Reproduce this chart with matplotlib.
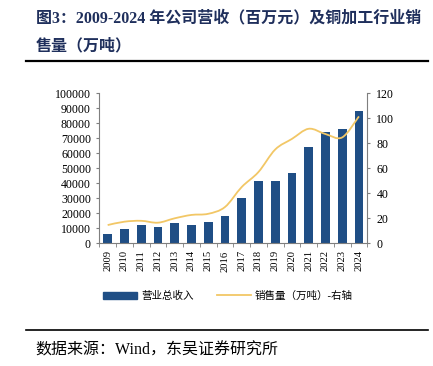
import matplotlib

matplotlib.use("Agg")

import matplotlib.pyplot as plt
from matplotlib.lines import Line2D
from matplotlib.patches import PathPatch
from matplotlib.path import Path

plt.rcParams["font.family"] = ["Liberation Serif", "Noto Sans CJK SC"]

years = [str(y) for y in range(2009, 2025)]
revenue = [6400, 9300, 12200, 10700, 13300, 12400, 14000, 18200,
           30400, 41300, 41700, 46900, 64000, 74400, 76200, 88400]
sales_volume = [14.6, 17.3, 18.0, 16.5, 20.0, 22.7, 23.6, 29.0,
                45.0, 57.0, 75.0, 83.5, 91.6, 87.4, 84.7, 101.5]

title_1 = "图3：2009-2024 年公司营收（百万元）及铜加工行业销"
title_2 = "售量（万吨）"
source = "数据来源：Wind，东吴证券研究所"
bar_label = "营业总收入"
line_label = "销售量（万吨）-右轴"

BAR_COLOR = "#1f4e85"
LINE_COLOR = "#f2c766"
SPINE_COLOR = "#7f7f7f"


def smooth_path(xs, ys):
    # catmull-rom style bezier, like the smoothed line in the source chart
    pts = list(zip(xs, ys))
    verts = [pts[0]]
    codes = [Path.MOVETO]
    n = len(pts)
    for i in range(n - 1):
        p0 = pts[i - 1] if i > 0 else pts[i]
        p1 = pts[i]
        p2 = pts[i + 1]
        p3 = pts[i + 2] if i + 2 < n else pts[i + 1]
        c1 = (p1[0] + (p2[0] - p0[0]) / 6, p1[1] + (p2[1] - p0[1]) / 6)
        c2 = (p2[0] - (p3[0] - p1[0]) / 6, p2[1] - (p3[1] - p1[1]) / 6)
        verts += [c1, c2, p2]
        codes += [Path.CURVE4] * 3
    return Path(verts, codes)


fig = plt.figure(figsize=(4.33, 3.66), dpi=100)
ax = fig.add_axes([0.2293, 0.3352, 0.619, 0.41])
ax2 = ax.twinx()

x = list(range(len(years)))
ax.bar(x, revenue, width=0.52, color=BAR_COLOR, zorder=2)
ax2.add_patch(PathPatch(smooth_path(x, sales_volume), facecolor="none",
                        edgecolor=LINE_COLOR, linewidth=1.3, zorder=3))

ax.set_xlim(-0.5, len(years) - 0.5)
ax.set_ylim(0, 100000)
ax2.set_ylim(0, 120)
ax.set_yticks(range(0, 100001, 10000))
ax2.set_yticks(range(0, 121, 20))

ax.set_xticks(x)
ax.set_xticklabels(years, rotation=90, fontsize=7.6)
ax.set_xticks([i - 0.5 for i in range(len(years) + 1)], minor=True)
ax.tick_params(axis="x", which="major", length=0, pad=5)
ax.tick_params(axis="x", which="minor", length=3, color=SPINE_COLOR, direction="out")
ax.tick_params(axis="y", length=2.5, color=SPINE_COLOR, labelsize=8.6, pad=3.5)
ax2.tick_params(axis="y", length=2.5, color=SPINE_COLOR, labelsize=8.6, pad=4)

for a in (ax, ax2):
    a.spines["top"].set_visible(False)
    for s in ("left", "right", "bottom"):
        a.spines[s].set_color(SPINE_COLOR)
        a.spines[s].set_linewidth(0.8)
ax.spines["right"].set_visible(False)
ax2.spines["left"].set_visible(False)
ax2.spines["bottom"].set_visible(False)

handles = [
    plt.Rectangle((0, 0), 1, 1, color=BAR_COLOR),
    Line2D([0], [0], color=LINE_COLOR, linewidth=1.3),
]
fig.legend(handles, [bar_label, line_label], loc="center",
           bbox_to_anchor=(0.527, 0.191), ncol=2, frameon=False,
           fontsize=7.6, handlelength=3.2, columnspacing=2.2, handletextpad=0.4)

fig.text(36 / 433, 1 - 18 / 366, title_1, fontsize=11.5, fontweight="bold",
         color="#1f2f5c", va="center", ha="left")
fig.text(36 / 433, 1 - 46 / 366, title_2, fontsize=11.5, fontweight="bold",
         color="#1f2f5c", va="center", ha="left")
fig.add_artist(Line2D([26 / 433, 428 / 433], [1 - 61 / 366] * 2,
                      color="black", linewidth=1.6))
fig.add_artist(Line2D([26 / 433, 428 / 433], [1 - 330 / 366] * 2,
                      color="black", linewidth=1.2))
fig.text(35 / 433, 1 - 351 / 366, source, fontsize=11.5, color="black",
         va="center", ha="left")

fig.savefig("out.png", dpi=100)
